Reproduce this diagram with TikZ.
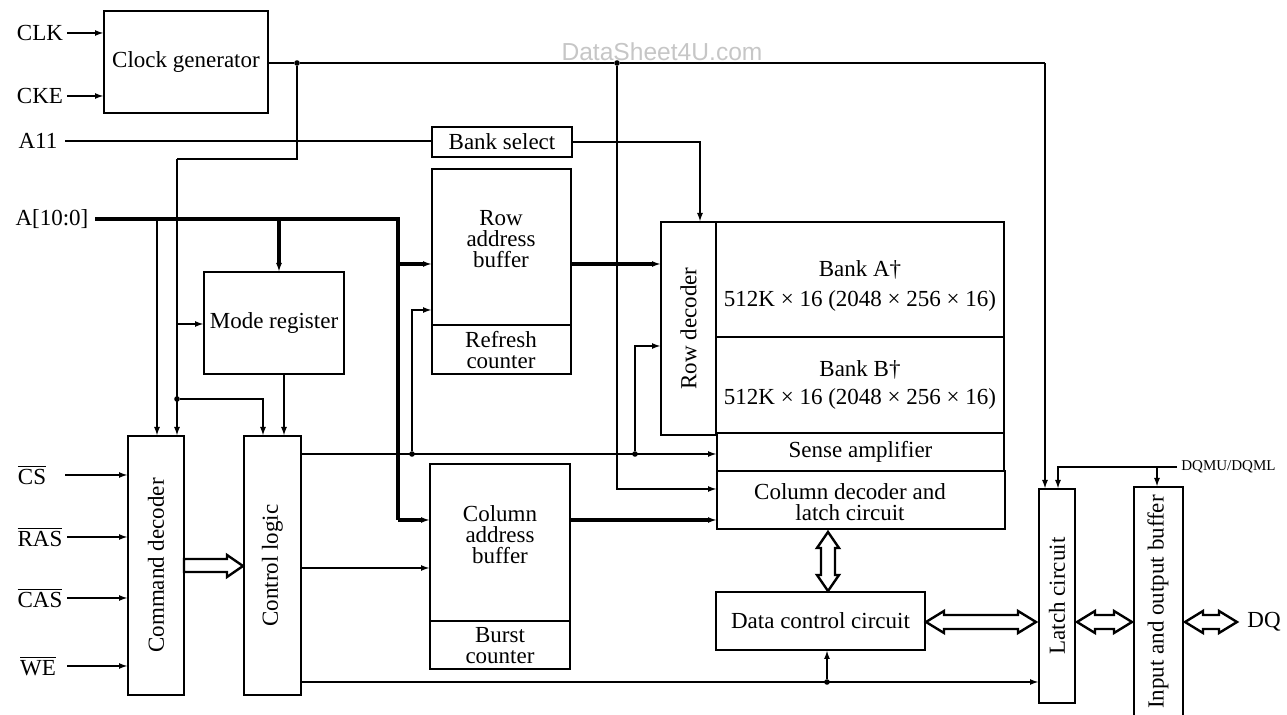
\documentclass[tikz,border=0pt]{standalone}
\usepackage{fontspec}
\setmainfont{Liberation Serif}
\newfontfamily\wmfont{Liberation Sans}
\usetikzlibrary{arrows.meta,calc}
\newcommand\blk[6]{\node[blk,minimum width={(#4-#2)*0.5pt},minimum height={(#5-#3)*0.5pt}] (#1) at ({(#2+#4)/2},{(#3+#5)/2}) {#6};}
\newcommand\hdarrow[3]{\draw[hollow] (#1,#3) -- ++(18,-11) -- ++(0,4) -- ({#2-18},{#3-7}) -- ++(0,-4) -- (#2,#3) -- ({#2-18},{#3+11}) -- ++(0,-4) -- ({#1+18},{#3+7}) -- ++(0,4) -- cycle;}
\newcommand\vdarrow[3]{\draw[hollow] (#3,#1) -- ++(-11,16) -- ++(4,0) -- ({#3-7},{#2-16}) -- ++(-4,0) -- (#3,#2) -- ({#3+11},{#2-16}) -- ++(-4,0) -- ({#3+7},{#1+16}) -- ++(4,0) -- cycle;}
\begin{document}
\begin{tikzpicture}[x=0.5pt,y=-0.5pt,
  font=\fontsize{11.5}{10.5}\selectfont,
  >={Latex[length=4.5pt,width=3pt]},
  thinline/.style={line width=1pt},
  bus/.style={line width=2pt},
  blk/.style={draw,line width=1.3pt,inner sep=0pt,outer sep=0pt,align=center},
  lbl/.style={inner sep=0pt},
  txt/.style={inner sep=0pt,align=center},
  hollow/.style={draw,line width=1.2pt,fill=white,line join=miter},
  dot/.style={circle,fill,inner sep=0pt,minimum size=2.8pt}
]
\useasboundingbox (0,0) rectangle (1287,715);
\path[clip] (0,0) rectangle (1287,715);

% watermark
\node[text=gray!45,font=\wmfont\fontsize{12.3}{14}\selectfont,inner sep=0pt] (wm) at (662,52) {DataSheet4U.com};

% blocks
\blk{cg}{104}{11}{268}{113}{Clock generator}
\blk{bs}{432}{127}{572}{157}{Bank select}
\blk{mode}{204}{272}{344}{374}{Mode register}
\blk{rab}{432}{169}{571}{325}{}
\blk{refc}{432}{325}{571}{374}{}
\blk{cab}{430}{464}{570}{621}{}
\blk{burst}{430}{621}{570}{669}{}
\blk{cmd}{128}{436}{184}{695}{\rotatebox{90}{Command decoder}}
\blk{cl}{244}{436}{301}{695}{\rotatebox{90}{Control logic}}
\blk{rowdec}{661}{222}{716}{435}{\rotatebox{90}{Row decoder}}
\blk{bankA}{716}{222}{1004}{337}{}
\blk{bankB}{716}{337}{1004}{433}{}
\blk{sense}{717}{433}{1004}{471}{Sense amplifier}
\blk{coldec}{717}{471}{1005}{529}{}
\blk{dcc}{716}{592}{925}{650}{Data control circuit}
\blk{latch}{1039}{489}{1075}{703}{\rotatebox{90}{Latch circuit}}
\blk{iob}{1134}{487}{1183}{740}{}

% block texts
\node[txt] (trab) at (501,239) {Row\\address\\buffer};
\node[txt] (trefc) at (501,350) {Refresh\\counter};
\node[txt] (tcab) at (500,535) {Column\\address\\buffer};
\node[txt] (tburst) at (500,646) {Burst\\counter};
\node[txt] (tbankA) at (860,286) {Bank A†\\[4.5pt]512K × 16 (2048 × 256 × 16)};
\node[txt] (tbankB) at (860,385) {Bank B†\\[3.5pt]512K × 16 (2048 × 256 × 16)};
\node[txt] (tcoldec) at (850,502) {Column decoder and\\latch circuit};
\node[txt] (tiob) at (1158,602) {\rotatebox{90}{Input and output buffer}};

% input labels
\node[lbl] (clk) at (40,33) {CLK};
\node[lbl] (cke) at (40,96) {CKE};
\node[lbl] (a11) at (38,141) {A11};
\node[lbl] (abus) at (52,219) {A[10:0]};
\node[lbl] (cs) at (32,475) {$\overline{\mbox{CS}}$};
\node[lbl] (ras) at (40,537) {$\overline{\mbox{RAS}}$};
\node[lbl] (cas) at (40,598) {$\overline{\mbox{CAS}}$};
\node[lbl] (we) at (38,666) {$\overline{\mbox{WE}}$};
\node[anchor=west,inner xsep=2pt,inner ysep=0pt,font=\fontsize{7.5}{9}\selectfont] (dqm) at (1177,467) {DQMU/DQML};
\node[anchor=west,inner xsep=3pt,inner ysep=0pt] (dq) at (1241,622) {DQ};

% start points of input lines
\coordinate (sclk) at (67,33);
\coordinate (scke) at (67,96);
\coordinate (sa11) at (65,141);
\coordinate (sabus) at (95,219);
\coordinate (scs) at (65,475);
\coordinate (sras) at (67,537);
\coordinate (scas) at (67,598);
\coordinate (swe) at (67,666);

% input arrows
\draw[thinline,->] (sclk) -- (sclk -| cg.west);
\draw[thinline,->] (scke) -- (scke -| cg.west);
\draw[thinline,->] (scs) -- (scs -| cmd.west);
\draw[thinline,->] (sras) -- (sras -| cmd.west);
\draw[thinline,->] (scas) -- (scas -| cmd.west);
\draw[thinline,->] (swe) -- (swe -| cmd.west);

% clock distribution
\node[dot] (d1) at (297,63) {};
\node[dot] (d2) at (617,63) {};
\coordinate (c1) at (1045,63);
\draw[thinline] (cg.east |- d1) -- (d1) -- (d2) -- (c1);
\draw[thinline,->] (c1) -- (c1 |- latch.north);
\coordinate (c2) at (297,159);
\coordinate (c3) at (177,159);
\draw[line width=1.3pt] (d1) -- (c2) -- (c3);
\draw[thinline,->] (c3) -- (c3 |- cmd.north);
\coordinate (c4) at (177,324);
\draw[thinline,->] (c4) -- (c4 -| mode.west);
\node[dot] (d3) at (177,399) {};
\coordinate (c5) at (263,399);
\draw[thinline,->] (d3) -- (c5) -- (c5 |- cl.north);
\coordinate (c6) at (617,489);
\draw[thinline,->] (d2) -- (c6) -- (c6 -| coldec.west);

% A11 / bank select
\draw[thinline] (sa11) -- (sa11 -| bs.west);
\coordinate (c7) at (700,142);
\draw[thinline,->] (bs.east) -- (c7) -- (c7 |- rowdec.north);

% address bus
\coordinate (b1) at (398,219);
\coordinate (b2) at (398,520);
\coordinate (b3) at (398,264);
\coordinate (b4) at (157,219);
\coordinate (b5) at (279,219);
\draw[bus] (sabus) -- (b1) -- (b2);
\draw[bus,->] (b2) -- (b2 -| cab.west);
\draw[bus,->] (b3) -- (b3 -| rab.west);
\draw[thinline,->] (b4) -- (b4 |- cmd.north);
\draw[bus,->] (b5) -- (b5 |- mode.north);

% mode register to control logic
\coordinate (c8) at (284,374);
\draw[thinline,->] (c8) -- (c8 |- cl.north);

% control logic outputs
\coordinate (e1) at (301,454);
\node[dot] (d4) at (412,454) {};
\node[dot] (d5) at (635,454) {};
\draw[thinline,->] (e1) -- (e1 -| sense.west);
\coordinate (c9) at (412,310);
\draw[thinline,->] (d4) -- (c9) -- (c9 -| rab.west);
\coordinate (c10) at (635,346);
\draw[thinline,->] (d5) -- (c10) -- (c10 -| rowdec.west);
\coordinate (e2) at (301,568);
\draw[thinline,->] (e2) -- (e2 -| cab.west);
\coordinate (e3) at (301,682);
\node[dot] (d6) at (827,682) {};
\draw[thinline,->] (e3) -- (e3 -| latch.west);
\draw[thinline,->] (d6) -- (d6 |- dcc.south);

% buffer outputs
\coordinate (e4) at (571,264);
\draw[bus,->] (e4) -- (e4 -| rowdec.west);
\coordinate (e5) at (570,520);
\draw[bus,->] (e5) -- (e5 -| coldec.west);

% DQM
\coordinate (c11) at (1058,467);
\coordinate (c12) at (1157,467);
\draw[thinline,->] (dqm.west) -- (c11) -- (c11 |- latch.north);
\draw[thinline,->] (c12) -- (c12 |- iob.north);

% hollow arrows
\draw[hollow] (184,559) -- (227,559) -- (227,555) -- (243,566) -- (227,577) -- (227,572) -- (184,572) -- cycle;
\vdarrow{532}{591}{828}
\hdarrow{926}{1036}{622}
\hdarrow{1077}{1132}{622}
\hdarrow{1185}{1237}{622}
\end{tikzpicture}
\end{document}
